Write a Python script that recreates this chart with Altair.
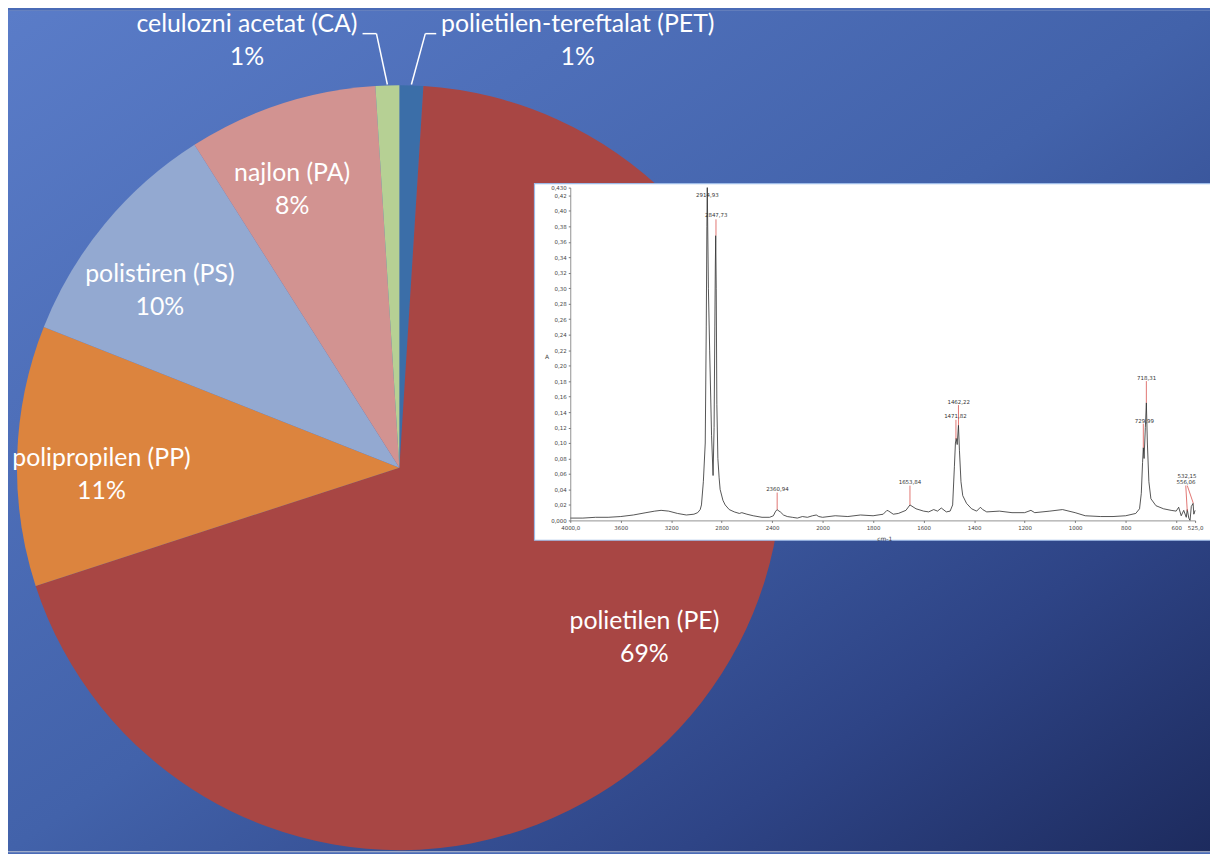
import math
import altair as alt
import pandas as pd

W, H = 1210, 846

# ---------------- pie data ----------------
categories = ["polietilen-tereftalat (PET)", "polietilen (PE)", "polipropilen (PP)",
              "polistiren (PS)", "najlon (PA)", "celulozni acetat (CA)"]
codes = ["PET", "PE", "PP", "PS", "PA", "CA"]
shares = [1, 69, 11, 10, 8, 1]
slice_colors = ["#3b6ea8", "#a84644", "#dc843e", "#93a9d1", "#d29391", "#b6d094"]
outside = ["PET", "CA"]

# ---------------- spectrum data (inset) ----------------
wavenumbers = [4000, 3900, 3800, 3700, 3600, 3500, 3400, 3330, 3280, 3220, 3150, 3080, 3020,
               2990, 2970, 2960, 2945, 2930, 2922, 2917, 2914, 2905, 2895, 2880, 2868, 2860,
               2854, 2850, 2847, 2843, 2838, 2830, 2820, 2812, 2790, 2772, 2740, 2700, 2660,
               2640, 2600, 2550, 2480, 2420, 2390, 2375, 2361, 2345, 2335, 2310, 2280, 2240,
               2200, 2160, 2120, 2080, 2050, 2030, 2000, 1950, 1900, 1850, 1800, 1760, 1745,
               1738, 1720, 1700, 1670, 1654, 1630, 1600, 1580, 1560, 1545, 1530, 1510, 1495,
               1485, 1478, 1474, 1471, 1467, 1462, 1458, 1452, 1445, 1430, 1410, 1390, 1375,
               1366, 1350, 1300, 1250, 1200, 1175, 1160, 1100, 1050, 1000, 960, 900, 850, 800,
               760, 745, 738, 733, 730, 727, 722, 718, 714, 708, 700, 680, 650, 620, 600, 590,
               580, 570, 560, 556, 550, 545, 540, 533, 530, 525]
absorbance = [0.003, 0.003, 0.004, 0.004, 0.005, 0.007, 0.010, 0.012, 0.013, 0.012, 0.009, 0.007, 0.008,
              0.010, 0.014, 0.020, 0.050, 0.100, 0.250, 0.380, 0.430, 0.300, 0.220, 0.110, 0.058, 0.120,
              0.250, 0.330, 0.368, 0.300, 0.150, 0.080, 0.055, 0.040, 0.026, 0.020, 0.014, 0.011, 0.009,
              0.010, 0.008, 0.006, 0.004, 0.004, 0.006, 0.011, 0.014, 0.012, 0.011, 0.007, 0.005, 0.004,
              0.003, 0.005, 0.004, 0.006, 0.007, 0.005, 0.004, 0.006, 0.005, 0.007, 0.006, 0.008, 0.013,
              0.012, 0.008, 0.009, 0.013, 0.020, 0.015, 0.012, 0.011, 0.014, 0.012, 0.016, 0.011, 0.012,
              0.020, 0.070, 0.100, 0.106, 0.098, 0.123, 0.090, 0.050, 0.032, 0.022, 0.015, 0.012, 0.017,
              0.014, 0.011, 0.012, 0.010, 0.010, 0.013, 0.010, 0.012, 0.014, 0.010, 0.006, 0.005, 0.005, 0.006,
              0.009, 0.015, 0.035, 0.075, 0.094, 0.080, 0.120, 0.152, 0.100, 0.050, 0.028, 0.019, 0.015, 0.013, 0.012, 0.017,
              0.006, 0.013, 0.004, 0.014, 0.003, 0.000, 0.018, 0.022, 0.008, 0.013]
assert len(wavenumbers) == len(absorbance)

peak_labels = ["2914,93", "2847,73", "2360,94", "1653,84", "1462,22", "1471,82",
               "718,31", "729,99", "532,15", "556,06"]
peak_label_wn = [2913, 2843, 2358, 1654, 1461, 1474, 717, 726, 557, 561]
peak_label_A = [0.421, 0.395, 0.040, 0.049, 0.153, 0.135, 0.184, 0.129, 0.057, 0.049]

marker_wn_top = [2845, 2360, 1654, 1462, 1472, 718, 730, 556, 562]
marker_A_top = [0.389, 0.036, 0.045, 0.149, 0.130, 0.180, 0.125, 0.045, 0.045]
marker_wn_bot = [2845, 2360, 1654, 1462, 1472, 718, 730, 532, 556]
marker_A_bot = [0.368, 0.014, 0.020, 0.123, 0.105, 0.152, 0.094, 0.022, 0.012]

x_ticks = [4000, 3600, 3200, 2800, 2400, 2000, 1800, 1600, 1400, 1200, 1000, 800, 600, 525]
y_ticks = [0, 0.02, 0.04, 0.06, 0.08, 0.10, 0.12, 0.14, 0.16, 0.18, 0.20, 0.22, 0.24, 0.26,
           0.28, 0.30, 0.32, 0.34, 0.36, 0.38, 0.40, 0.42, 0.43]

# ---------------- layout constants ----------------
CX, CY, R = 394, 460, 385
LABEL_R = 300
LABEL_ROT = -0.054          # labels sit slightly counter-clockwise of the slice middle
OUT_R = 430
FONT = "Lato"
FS = 25
LH = 33

pie_df = pd.DataFrame({
    "cat": categories, "code": codes, "share": shares, "order": list(range(len(codes))),
    "color": slice_colors,
})
pie_df["inside"] = [
    "" if c in outside else f"{n}\n{s}%" for n, c, s in zip(categories, codes, shares)
]
for c in outside:
    pie_df["txt_" + c] = [f"{n}\n{s}%" if cc == c else "" for n, cc, s in zip(categories, codes, shares)]

theta = alt.Theta("share:Q", stack=True)
theta_lab = alt.Theta("share:Q", stack=True,
                      scale=alt.Scale(range=[LABEL_ROT, 2 * math.pi + LABEL_ROT]))
order = alt.Order("order:Q", sort="ascending")

bg = alt.Chart(pd.DataFrame({"k": [0]})).mark_rect(
    color=alt.LinearGradient(
        gradient="linear", x1=0, y1=0, x2=1, y2=1,
        stops=[alt.GradientStop(offset=0, color="#5a7cc8"),
               alt.GradientStop(offset=0.5, color="#4262aa"),
               alt.GradientStop(offset=0.78, color="#2e4486"),
               alt.GradientStop(offset=1, color="#1d2b5e")])
).encode(x=alt.value(0), x2=alt.value(W), y=alt.value(0), y2=alt.value(H))

base = alt.Chart(pie_df)
pie = base.mark_arc(radius=R).encode(
    theta=theta, order=order,
    color=alt.Color("color:N", scale=None),
    x=alt.value(CX), y=alt.value(CY),
)
txt_style = dict(font=FONT, fontSize=FS, color="white", lineBreak="\n", lineHeight=LH,
                 align="center", baseline="middle", dy=-LH / 2)
inside_txt = base.mark_text(radius=LABEL_R, **txt_style).encode(
    theta=theta_lab, order=order, text="inside:N", x=alt.value(CX), y=alt.value(CY))
out_pet = base.mark_text(radius=OUT_R, dx=166, **txt_style).encode(
    theta=theta, order=order, text="txt_PET:N", x=alt.value(CX), y=alt.value(CY))
out_ca = base.mark_text(radius=OUT_R, dx=-140, **txt_style).encode(
    theta=theta, order=order, text="txt_CA:N", x=alt.value(CX), y=alt.value(CY))

# leader lines from slice edge to the outside labels
total = sum(shares)
starts = [sum(shares[:i]) for i in range(len(shares))]
leader_layers = []
for c, ex, hx in [("PET", 14, 11), ("CA", -11, -14)]:
    i = codes.index(c)
    mid = 2 * math.pi * (starts[i] + shares[i] / 2) / total
    px, py = CX + R * math.sin(mid), CY - R * math.cos(mid)
    elx, ely = px + ex, 23
    one = alt.Chart(pd.DataFrame({"k": [0]}))
    leader_layers.append(one.mark_rule(color="white", strokeWidth=1.5).encode(
        x=alt.value(px), y=alt.value(py - 1), x2=alt.value(elx), y2=alt.value(ely)))
    leader_layers.append(one.mark_rule(color="white", strokeWidth=1.5).encode(
        x=alt.value(elx), y=alt.value(ely), x2=alt.value(elx + hx), y2=alt.value(ely)))

# ---------------- inset spectrum ----------------
inset_box = alt.Chart(pd.DataFrame({"k": [0]})).mark_rect(
    fill="white", stroke="#9dbbe8", strokeWidth=1.2
).encode(x=alt.value(530), x2=alt.value(W + 4), y=alt.value(174), y2=alt.value(533))

xs = alt.Scale(domain=[4000, 2000, 525], range=[566, 820, 1195], zero=False, nice=False)
ys = alt.Scale(domain=[0, 0.43], range=[513, 178], zero=False, nice=False)

x_label_expr = ("datum.value == 4000 ? '4000,0' : datum.value == 525 ? '525,0' : "
                "format(datum.value, 'd')")
y_label_expr = ("(datum.value == 0 || datum.value == 0.43) ? "
                "replace(format(datum.value, '.3f'), '.', ',') : "
                "replace(format(datum.value, '.2f'), '.', ',')")
x_axis = alt.Axis(
    values=x_ticks, labelExpr=x_label_expr, offset=513 - H, grid=False, zindex=2,
    labelFont="DejaVu Sans", labelFontSize=5.5, labelColor="#444",
    tickSize=2, tickColor="#777", domainColor="#777", domainWidth=0.8,
    labelOverlap=False, labelFlush=False, labelPadding=3,
    title="cm-1", titleFont="DejaVu Sans", titleFontSize=6, titleFontWeight="normal",
    titleColor="#444", titleX=882, titleY=15, titleAlign="center")
y_axis = alt.Axis(
    values=y_ticks, labelExpr=y_label_expr, offset=-566, grid=False, zindex=2,
    labelFont="DejaVu Sans", labelFontSize=5.5, labelColor="#444",
    tickSize=2, tickColor="#777", domainColor="#777", domainWidth=0.8,
    labelOverlap=False, labelFlush=False, labelPadding=2,
    title="A", titleFont="DejaVu Sans", titleFontSize=6, titleFontWeight="normal",
    titleColor="#444", titleAngle=0, titleX=-24, titleY=351)

spec_df = pd.DataFrame({"wn": wavenumbers, "A": absorbance})
spectrum = alt.Chart(spec_df).mark_line(color="#2b2b2b", strokeWidth=0.8).encode(
    x=alt.X("wn:Q", scale=xs, axis=x_axis),
    y=alt.Y("A:Q", scale=ys, axis=y_axis),
)

mk_df = pd.DataFrame({"wn": marker_wn_top, "A": marker_A_top, "wn2": marker_wn_bot, "A2": marker_A_bot})
markers = alt.Chart(mk_df).mark_rule(color="#d9534f", strokeWidth=0.8).encode(
    x=alt.X("wn:Q", scale=xs, axis=x_axis), y=alt.Y("A:Q", scale=ys, axis=y_axis),
    x2="wn2:Q", y2="A2:Q")

lab_df = pd.DataFrame({"t": peak_labels, "wn": peak_label_wn, "A": peak_label_A})
peak_txt = alt.Chart(lab_df).mark_text(font="DejaVu Sans", fontSize=5.5, color="#333",
                                       align="center", baseline="middle").encode(
    x=alt.X("wn:Q", scale=xs, axis=x_axis), y=alt.Y("A:Q", scale=ys, axis=y_axis), text="t:N")

chart = alt.layer(
    bg, pie, inside_txt, out_pet, out_ca, *leader_layers,
    inset_box, spectrum, markers, peak_txt,
).resolve_scale(theta="independent").properties(
    width=W, height=H, padding=0, autosize=alt.AutoSizeParams(type="none"),
).configure_view(stroke=None).configure(background="#4a6bb6")

chart.save("out.html", embed_options={"renderer": "svg", "actions": False})
